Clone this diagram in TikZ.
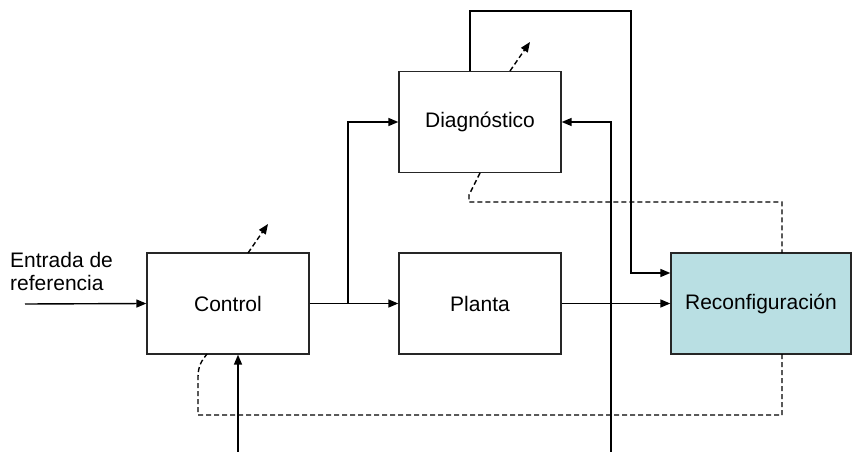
\documentclass[tikz,border=0pt]{standalone}
\usepackage{fontspec}
\setmainfont{Liberation Sans}
\usetikzlibrary{arrows.meta}
\definecolor{reconf}{HTML}{B9DFE3}
\begin{document}
\begin{tikzpicture}[x=1pt,y=-1pt,
  blk/.style={draw=black!85, line width=1.3pt, minimum width=162pt, minimum height=101pt, inner sep=0pt, font=\fontsize{21}{25}\selectfont},
  conn/.style={draw=black, line width=1.4pt},
  arr/.style={conn, -{Triangle[length=10pt,width=8pt]}},
  dsh/.style={conn, dash pattern=on 5pt off 3pt},
  darr/.style={dsh, -{Triangle[length=10pt,width=8pt]}}]
\useasboundingbox (0,0) rectangle (852,452);
\node[blk] (ctrl) at (228,303.5) {Control};
\node[blk] (diag) at (480,122) {Diagnóstico};
\node[blk] (plant) at (480,303.5) {Planta};
\node[blk, fill=reconf, minimum width=180pt] (rec) at (761,303.5) {Reconfiguración};
\node[anchor=west, align=left, inner sep=0pt, font=\fontsize{21}{23}\selectfont] (lbl) at (10,271) {Entrada de\\referencia};
% coordinates
\coordinate (in) at (25,304);
\coordinate (br) at (348,304);
\coordinate (bot1) at (238,452);
\coordinate (bot2) at (611,452);
\coordinate (t1) at (470,11);
\coordinate (t2) at (631,11);
% input
\draw[arr] (in) -- (ctrl.west);
% control -> planta with branch to diagnostico
\draw[arr] (ctrl.east) -- (plant.west);
\draw[arr] (br) |- (diag.west);
% planta -> reconf
\draw[arr] (plant.east) -- (rec.west);
% feedback into control
\draw[arr] (bot1) -- (bot1 |- ctrl.south);
% vertical into diagnostico
\draw[arr] (bot2) |- (diag.east);
% loop from diagnostico top to reconf
\draw[arr] (diag.north -| t1) -- (t1) -- (t2) -- (631,273) -- (rec.west |- 0,273);
% dashed arrows
\draw[darr] (248,253) -- (268,224);
\draw[darr] (510,71) -- (530,42);
% dashed connectors
\draw[dsh] (480,173) -- (469,195) -- (469,202) -- (782,202) -- (782,253);
\draw[dsh] (782,354) -- (782,415) -- (198,415) -- (198,377) .. controls (198,366) and (202,360) .. (207,354);
\end{tikzpicture}
\end{document}
